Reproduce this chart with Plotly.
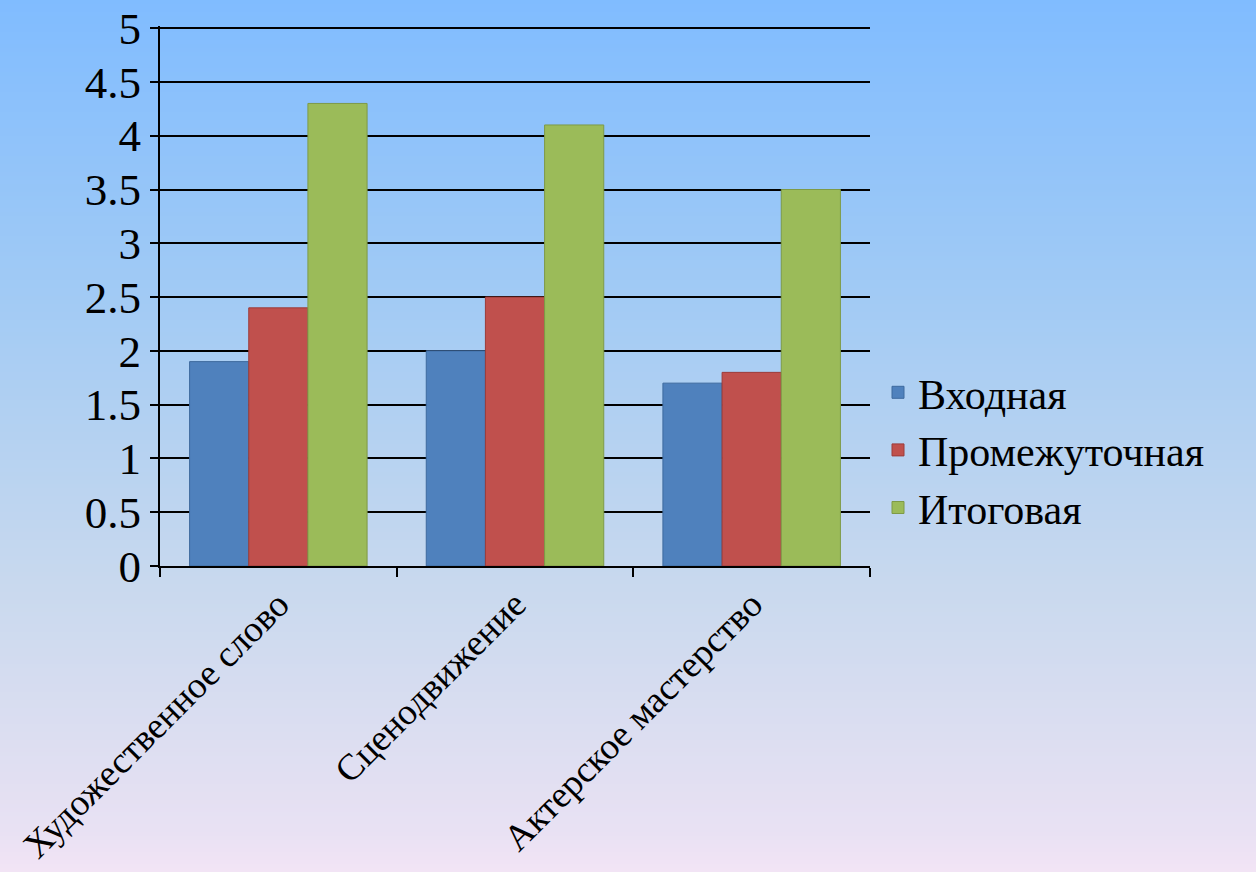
import plotly.graph_objects as go

categories = ["Художественное слово", "Сценодвижение", "Актерское мастерство"]
series_names = ["Входная", "Промежуточная", "Итоговая"]
vhodnaya = [1.9, 2.0, 1.7]
promezh = [2.4, 2.5, 1.8]
itog = [4.3, 4.1, 3.5]
series_values = [vhodnaya, promezh, itog]
colors = ["#4f81bd", "#c0504d", "#9bbb59"]
edge_colors = ["#3e6a9e", "#9c3c3a", "#7e9a47"]
y_ticks = [0, 0.5, 1, 1.5, 2, 2.5, 3, 3.5, 4, 4.5, 5]
y_tick_text = ["0", "0.5", "1", "1.5", "2", "2.5", "3", "3.5", "4", "4.5", "5"]

W, H = 1256, 872
L, R, T, B = 160, 386, 26, 306
pw, ph = W - L - R, H - T - B

fig = go.Figure()
for name, vals, c, ec in zip(series_names, series_values, colors, edge_colors):
    fig.add_trace(go.Bar(x=categories, y=vals, name=name,
                         marker=dict(color=c, line=dict(color=ec, width=1))))

# background gradient (page-wide strips)
stops = [(0.0, (128, 188, 255)), (0.355, (163, 203, 244)), (0.675, (201, 217, 238)),
         (0.95, (232, 225, 243)), (1.0, (243, 228, 245))]

def col_at(t):
    for (t0, c0), (t1, c1) in zip(stops[:-1], stops[1:]):
        if t0 <= t <= t1:
            f = (t - t0) / (t1 - t0)
            return "rgb(%d,%d,%d)" % tuple(round(a + (b - a) * f) for a, b in zip(c0, c1))
    return "rgb(%d,%d,%d)" % stops[-1][1]

n = 218
shapes = []
for i in range(n):
    p0 = i * H / n
    p1 = (i + 1) * H / n + 0.6
    y0 = (H - B - p1) / ph
    y1 = (H - B - p0) / ph
    shapes.append(dict(type="rect", xref="paper", yref="paper",
                       x0=-L / pw, x1=(W - L) / pw, y0=y0, y1=y1,
                       fillcolor=col_at((p0 + H / n / 2) / H), line=dict(width=0),
                       layer="below"))

fig.update_layout(
    width=W, height=H,
    margin=dict(l=L, r=R, t=T, b=B, autoexpand=False),
    paper_bgcolor="rgba(0,0,0,0)", plot_bgcolor="rgba(0,0,0,0)",
    shapes=shapes,
    barmode="group", bargap=0.25, bargroupgap=0,
    font=dict(family="Liberation Serif, Times New Roman, serif", color="black"),
    xaxis=dict(showgrid=False, showline=True, linecolor="black", linewidth=2,
               ticks="outside", tickson="boundaries", ticklen=9, tickwidth=2,
               tickcolor="black", tickangle=-45, tickfont=dict(size=37)),
    yaxis=dict(range=[0, 5.02], tickvals=y_ticks, ticktext=y_tick_text,
               showgrid=True, gridcolor="black", gridwidth=2,
               showline=True, linecolor="black", linewidth=2,
               ticks="outside", ticklen=8, tickwidth=2, tickcolor="black",
               tickfont=dict(size=45), zeroline=False),
    legend=dict(x=(878 - L) / pw, xanchor="left", y=(H - B - 450) / ph, yanchor="middle",
                font=dict(size=42), bgcolor="rgba(0,0,0,0)", itemwidth=30,
                tracegroupgap=0),
    showlegend=True,
)

fig.write_html("out.html", config={"displayModeBar": False},
               post_script="document.body.style.margin='0';")
